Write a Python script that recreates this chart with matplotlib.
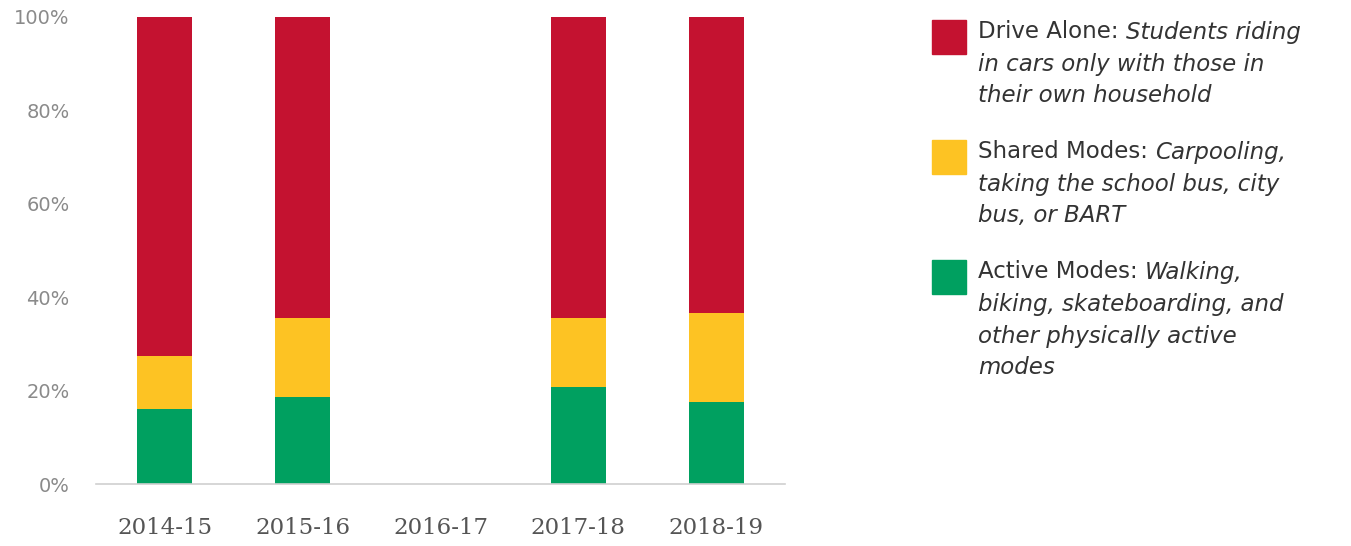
import matplotlib.pyplot as plt
import numpy as np

# Share of trips by mode (percent), 2016-17 has no survey data
years = ['2014-15', '2015-16', '2016-17', '2017-18', '2018-19']
active = [16.1, 18.6, 0, 20.7, 17.6]
shared = [11.3, 16.9, 0, 14.9, 19.1]
drive = [72.6, 64.5, 0, 64.4, 63.3]

colors = {'drive': '#C41230', 'shared': '#FDC323', 'active': '#00A060'}

legend_items = [
    ('Drive Alone: ', ['Students riding', 'in cars only with those in', 'their own household'], colors['drive']),
    ('Shared Modes: ', ['Carpooling,', 'taking the school bus, city', 'bus, or BART'], colors['shared']),
    ('Active Modes: ', ['Walking,', 'biking, skateboarding, and', 'other physically active', 'modes'], colors['active']),
]

W, H = 1351, 546
fig = plt.figure(figsize=(W / 100, H / 100), dpi=100)
ax = fig.add_axes([96 / W, 1 - 484 / H, (785 - 96) / W, (484 - 17) / H])

x = np.arange(len(years))
bw = 0.4
ax.bar(x, active, bw, color=colors['active'])
ax.bar(x, shared, bw, bottom=active, color=colors['shared'])
ax.bar(x, drive, bw, bottom=np.add(active, shared), color=colors['drive'])

ax.set_xlim(-0.5, 4.5)
ax.set_ylim(0, 100)
ax.set_yticks(range(0, 101, 20))
ax.set_yticklabels([f'{v}%' for v in range(0, 101, 20)], fontsize=14, color='#8a8a8a')
ax.set_xticks(x)
ax.set_xticklabels(years, fontsize=16.5, color='#555555', family='DejaVu Serif')
ax.tick_params(length=0)
ax.tick_params(axis='x', pad=24)
ax.tick_params(axis='y', pad=19)
for s in ['top', 'right', 'left']:
    ax.spines[s].set_visible(False)
ax.spines['bottom'].set_color('#d0d0d0')
ax.spines['bottom'].set_linewidth(1.2)

# legend drawn by hand: regular lead-in + italic description
renderer = fig.canvas.get_renderer()
line_h = 32
tops = [32, 152, 272]
fs = 16.5
for (lead, lines, col), y0 in zip(legend_items, tops):
    fig.patches.append(plt.Rectangle((932 / W, 1 - (y0 + 22) / H), 34 / W, 34 / H,
                                     transform=fig.transFigure, color=col))
    t = fig.text(978 / W, 1 - y0 / H, lead, fontsize=fs, color='#333333', va='center')
    ext = t.get_window_extent(renderer)
    fig.text(ext.x1 / W, 1 - y0 / H, lines[0], fontsize=fs, style='italic',
             color='#333333', va='center')
    for i, ln in enumerate(lines[1:], 1):
        fig.text(978 / W, 1 - (y0 + i * line_h) / H, ln, fontsize=fs, style='italic',
                 color='#333333', va='center')

fig.savefig('out.png', dpi=100)
